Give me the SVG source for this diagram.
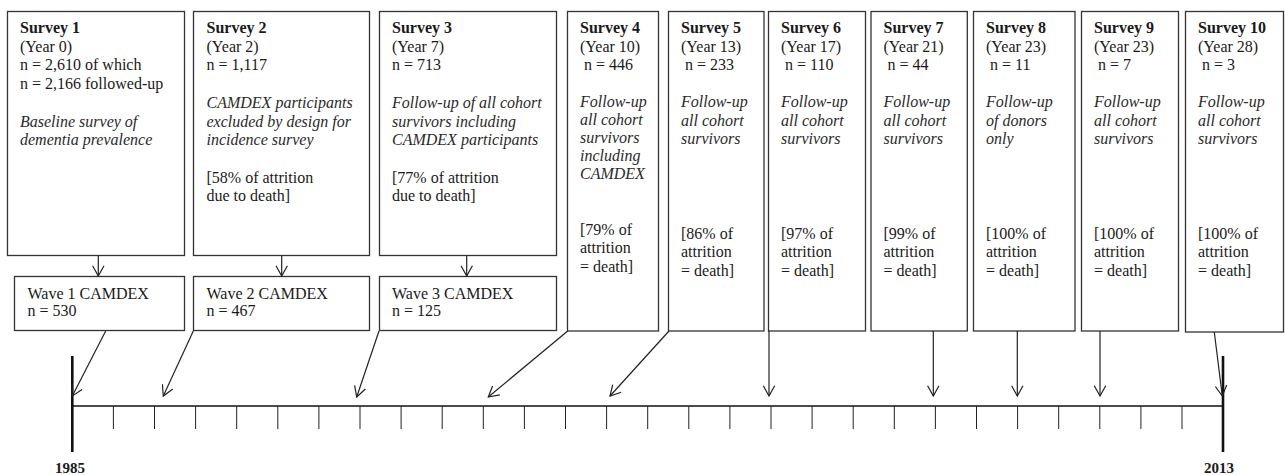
<svg xmlns="http://www.w3.org/2000/svg" width="1285" height="475" viewBox="0 0 1285 475" font-family="'Liberation Serif', 'Times New Roman', Times, serif">
<style>
  .box { fill: #fff; stroke: #333; stroke-width: 1.3; }
  text { font-family: 'Liberation Serif', 'Times New Roman', Times, serif; font-size: 16px; fill: #1a1a1a; }
  .t { font-weight: bold; }
  .i { font-style: italic; fill: #2a2a2a; }
  .yr { font-weight: bold; font-size: 15px; }
  .arr { stroke: #222; stroke-width: 1.2; fill: none; marker-end: url(#ah); }
  .tick { stroke: #222; stroke-width: 1; }
  .axis { stroke: #111; stroke-width: 1.5; }
  .end { stroke: #111; stroke-width: 2.6; }
</style>
<defs>
  <marker id="ah" viewBox="-1 -7 13 14" refX="10.3" refY="0" markerWidth="13" markerHeight="14" markerUnits="userSpaceOnUse" orient="auto">
    <path d="M0,-5.7 L10.3,0 L0,5.7" fill="none" stroke="#222" stroke-width="1.2"/>
  </marker>
</defs>

<g id="survey1">
  <rect class="box" x="7.5" y="11.5" width="177" height="244"/>
  <text x="20" y="33"><tspan class="t">Survey 1</tspan><tspan x="20" dy="18.7">(Year 0)</tspan><tspan x="20" dy="18.7">n = 2,610 of which</tspan><tspan x="20" dy="18.7">n = 2,166 followed-up</tspan></text>
  <text class="i" x="20" y="126.5">Baseline survey of<tspan x="20" dy="18.7">dementia prevalence</tspan></text>
</g>
<g id="survey2">
  <rect class="box" x="193.5" y="11.5" width="176" height="244"/>
  <text x="206.5" y="33"><tspan class="t">Survey 2</tspan><tspan x="206.5" dy="18.7">(Year 2)</tspan><tspan x="206.5" dy="18.7">n = 1,117</tspan></text>
  <text class="i" x="206.5" y="107.8">CAMDEX participants<tspan x="206.5" dy="18.7">excluded by design for</tspan><tspan x="206.5" dy="18.7">incidence survey</tspan></text>
  <text x="206.5" y="182.6">[58% of attrition<tspan x="206.5" dy="18.7">due to death]</tspan></text>
</g>
<g id="survey3">
  <rect class="box" x="379.5" y="11.5" width="177" height="244"/>
  <text x="392" y="33"><tspan class="t">Survey 3</tspan><tspan x="392" dy="18.7">(Year 7)</tspan><tspan x="392" dy="18.7">n = 713</tspan></text>
  <text class="i" x="392" y="107.8">Follow-up of all cohort<tspan x="392" dy="18.7">survivors including</tspan><tspan x="392" dy="18.7">CAMDEX participants</tspan></text>
  <text x="392" y="182.6">[77% of attrition<tspan x="392" dy="18.7">due to death]</tspan></text>
</g>
<g id="wave1">
  <rect class="box" x="14.5" y="276.5" width="170" height="54"/>
  <text x="27.5" y="298.5">Wave 1 CAMDEX<tspan x="27.5" dy="17.7">n = 530</tspan></text>
</g>
<g id="wave2">
  <rect class="box" x="193.5" y="276.5" width="176" height="54"/>
  <text x="206.5" y="298.5">Wave 2 CAMDEX<tspan x="206.5" dy="17.7">n = 467</tspan></text>
</g>
<g id="wave3">
  <rect class="box" x="379.5" y="276.5" width="177" height="54"/>
  <text x="392" y="298.5">Wave 3 CAMDEX<tspan x="392" dy="17.7">n = 125</tspan></text>
</g>
<g id="survey4">
  <rect class="box" x="567.5" y="11.5" width="91" height="319.5"/>
  <text x="580" y="33"><tspan class="t">Survey 4</tspan><tspan x="580" dy="18.7">(Year 10)</tspan><tspan x="584" dy="18.7">n = 446</tspan></text>
  <text class="i" x="580" y="107">Follow-up<tspan x="580" dy="18">all cohort</tspan><tspan x="580" dy="18">survivors</tspan><tspan x="580" dy="18">including</tspan><tspan x="580" dy="18">CAMDEX</tspan></text>
  <text x="580" y="235">[79% of<tspan x="580" dy="18.3">attrition</tspan><tspan x="580" dy="18.3">= death]</tspan></text>
</g>
<g id="survey5">
  <rect class="box" x="668.5" y="11.5" width="95.5" height="319.5"/>
  <text x="681" y="33"><tspan class="t">Survey 5</tspan><tspan x="681" dy="18.7">(Year 13)</tspan><tspan x="685" dy="18.7">n = 233</tspan></text>
  <text class="i" x="681" y="107">Follow-up<tspan x="681" dy="18.5">all cohort</tspan><tspan x="681" dy="18.5">survivors</tspan></text>
  <text x="681" y="239">[86% of<tspan x="681" dy="18.3">attrition</tspan><tspan x="681" dy="18.3">= death]</tspan></text>
</g>
<g id="survey6">
  <rect class="box" x="768.5" y="11.5" width="97" height="319.5"/>
  <text x="781" y="33"><tspan class="t">Survey 6</tspan><tspan x="781" dy="18.7">(Year 17)</tspan><tspan x="785" dy="18.7">n = 110</tspan></text>
  <text class="i" x="781" y="107">Follow-up<tspan x="781" dy="18.5">all cohort</tspan><tspan x="781" dy="18.5">survivors</tspan></text>
  <text x="781" y="239">[97% of<tspan x="781" dy="18.3">attrition</tspan><tspan x="781" dy="18.3">= death]</tspan></text>
</g>
<g id="survey7">
  <rect class="box" x="871" y="11.5" width="96.3" height="319.5"/>
  <text x="883.5" y="33"><tspan class="t">Survey 7</tspan><tspan x="883.5" dy="18.7">(Year 21)</tspan><tspan x="887.5" dy="18.7">n = 44</tspan></text>
  <text class="i" x="883.5" y="107">Follow-up<tspan x="883.5" dy="18.5">all cohort</tspan><tspan x="883.5" dy="18.5">survivors</tspan></text>
  <text x="883.5" y="239">[99% of<tspan x="883.5" dy="18.3">attrition</tspan><tspan x="883.5" dy="18.3">= death]</tspan></text>
</g>
<g id="survey8">
  <rect class="box" x="973.5" y="11.5" width="101.5" height="319.5"/>
  <text x="986" y="33"><tspan class="t">Survey 8</tspan><tspan x="986" dy="18.7">(Year 23)</tspan><tspan x="990" dy="18.7">n = 11</tspan></text>
  <text class="i" x="986" y="107">Follow-up<tspan x="986" dy="18.5">of donors</tspan><tspan x="986" dy="18.5">only</tspan></text>
  <text x="986" y="239">[100% of<tspan x="986" dy="18.3">attrition</tspan><tspan x="986" dy="18.3">= death]</tspan></text>
</g>
<g id="survey9">
  <rect class="box" x="1081.5" y="11.5" width="97" height="319.5"/>
  <text x="1094" y="33"><tspan class="t">Survey 9</tspan><tspan x="1094" dy="18.7">(Year 23)</tspan><tspan x="1098" dy="18.7">n = 7</tspan></text>
  <text class="i" x="1094" y="107">Follow-up<tspan x="1094" dy="18.5">all cohort</tspan><tspan x="1094" dy="18.5">survivors</tspan></text>
  <text x="1094" y="239">[100% of<tspan x="1094" dy="18.3">attrition</tspan><tspan x="1094" dy="18.3">= death]</tspan></text>
</g>
<g id="survey10">
  <rect class="box" x="1185.5" y="11.5" width="98" height="320.5"/>
  <text x="1198" y="33"><tspan class="t">Survey 10</tspan><tspan x="1198" dy="18.7">(Year 28)</tspan><tspan x="1202" dy="18.7">n = 3</tspan></text>
  <text class="i" x="1198" y="107">Follow-up<tspan x="1198" dy="18.5">all cohort</tspan><tspan x="1198" dy="18.5">survivors</tspan></text>
  <text x="1198" y="239">[100% of<tspan x="1198" dy="18.3">attrition</tspan><tspan x="1198" dy="18.3">= death]</tspan></text>
</g>

<g id="timeline">
  <line class="axis" x1="72.3" y1="406" x2="1223" y2="406"/>
  <line class="end" x1="72.3" y1="356" x2="72.3" y2="452"/>
  <line class="end" x1="1223" y1="356" x2="1223" y2="452"/>
  <g class="tick">
    <line x1="113.4" y1="406" x2="113.4" y2="429"/>
    <line x1="154.5" y1="406" x2="154.5" y2="429"/>
    <line x1="195.6" y1="406" x2="195.6" y2="429"/>
    <line x1="236.7" y1="406" x2="236.7" y2="429"/>
    <line x1="277.8" y1="406" x2="277.8" y2="429"/>
    <line x1="318.9" y1="406" x2="318.9" y2="429"/>
    <line x1="360" y1="406" x2="360" y2="429"/>
    <line x1="401.1" y1="406" x2="401.1" y2="429"/>
    <line x1="442.2" y1="406" x2="442.2" y2="429"/>
    <line x1="483.3" y1="406" x2="483.3" y2="429"/>
    <line x1="524.4" y1="406" x2="524.4" y2="429"/>
    <line x1="565.5" y1="406" x2="565.5" y2="429"/>
    <line x1="606.6" y1="406" x2="606.6" y2="429"/>
    <line x1="647.7" y1="406" x2="647.7" y2="429"/>
    <line x1="688.8" y1="406" x2="688.8" y2="429"/>
    <line x1="729.9" y1="406" x2="729.9" y2="429"/>
    <line x1="771" y1="406" x2="771" y2="429"/>
    <line x1="812.1" y1="406" x2="812.1" y2="429"/>
    <line x1="853.2" y1="406" x2="853.2" y2="429"/>
    <line x1="894.3" y1="406" x2="894.3" y2="429"/>
    <line x1="935.4" y1="406" x2="935.4" y2="429"/>
    <line x1="976.5" y1="406" x2="976.5" y2="429"/>
    <line x1="1017.6" y1="406" x2="1017.6" y2="429"/>
    <line x1="1058.7" y1="406" x2="1058.7" y2="429"/>
    <line x1="1099.8" y1="406" x2="1099.8" y2="429"/>
    <line x1="1140.9" y1="406" x2="1140.9" y2="429"/>
    <line x1="1182" y1="406" x2="1182" y2="429"/>
  </g>
  <text class="yr" x="55" y="472.5">1985</text>
  <text class="yr" x="1204" y="472.5">2013</text>
</g>

<g id="connectors">
  <line class="arr" x1="98.3" y1="255.5" x2="98.3" y2="276"/>
  <line class="arr" x1="281.7" y1="255.5" x2="281.7" y2="276"/>
  <line class="arr" x1="466.7" y1="255.5" x2="466.7" y2="276"/>
  <line class="arr" x1="105.7" y1="331" x2="72.3" y2="396"/>
  <line class="arr" x1="193.3" y1="331" x2="163.3" y2="396"/>
  <line class="arr" x1="379" y1="331" x2="356.7" y2="397"/>
  <line class="arr" x1="567.7" y1="331" x2="488.3" y2="397"/>
  <line class="arr" x1="669" y1="331" x2="610" y2="396"/>
  <line class="arr" x1="769" y1="331" x2="769" y2="396"/>
  <line class="arr" x1="933.3" y1="331" x2="933.3" y2="396"/>
  <line class="arr" x1="1017.3" y1="331" x2="1017.3" y2="396"/>
  <line class="arr" x1="1100" y1="331" x2="1100" y2="396"/>
  <line class="arr" x1="1214.3" y1="332" x2="1222.3" y2="396"/>
</g>
</svg>
